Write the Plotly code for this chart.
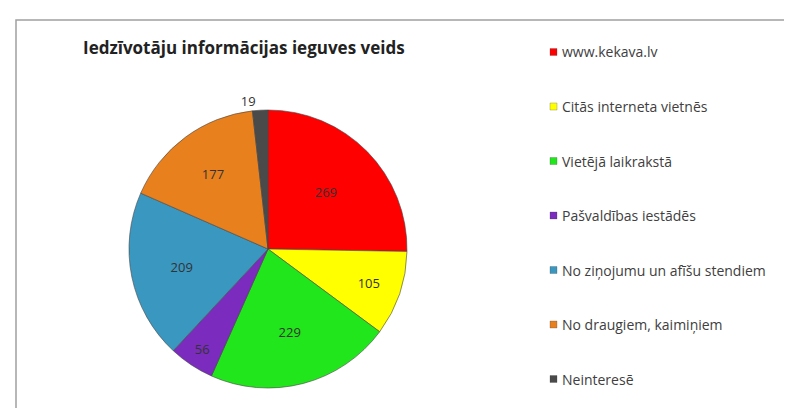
import plotly.graph_objects as go

categories = ["www.kekava.lv", "Citās interneta vietnēs", "Vietējā laikrakstā",
              "Pašvaldības iestādēs", "No ziņojumu un afīšu stendiem",
              "No draugiem, kaimiņiem", "Neinteresē"]
values = [269, 105, 229, 56, 209, 177, 19]
colors = ["#FF0000", "#FFFF00", "#22E61C", "#7B2CBF", "#3A97C0", "#E8801E", "#4A4A4A"]
title_text = "Iedzīvotāju informācijas ieguves veids"

W, H = 792, 408
font = "'Open Sans', sans-serif"

positions = ["inside"] * 6 + ["outside"]

fig = go.Figure(go.Pie(
    labels=categories, values=values, sort=False, direction="clockwise",
    rotation=0, marker=dict(colors=colors, line=dict(color="rgba(70,70,70,0.6)", width=1)),
    textinfo="value", textposition=positions, insidetextorientation="horizontal",
    textfont=dict(family=font, size=13, color="#333333"),
    showlegend=False,
    domain=dict(x=[121/W, 399/W], y=[(H-387)/H, (H-95)/H]),
))

shapes = [dict(type="rect", xref="paper", yref="paper", x0=8/W, x1=1.05, y0=-0.05, y1=(H-12)/H,
               line=dict(color="#A0A0A0", width=1.5), fillcolor="rgba(0,0,0,0)")]
annotations = [dict(text=title_text, xref="paper", yref="paper", x=73/W, y=(H-40)/H,
                    xanchor="left", yanchor="middle", showarrow=False,
                    font=dict(family=font, size=17, color="#222222", weight="bold"))]

y0, dy = 44, 54.5
for i, (c, col) in enumerate(zip(categories, colors)):
    yc = y0 + i * dy
    shapes.append(dict(type="rect", xref="paper", yref="paper",
                       x0=542/W, x1=549/W, y0=(H-yc-3.5)/H, y1=(H-yc+3.5)/H,
                       fillcolor=col, line=dict(color="rgba(60,60,60,0.5)", width=0.5)))
    annotations.append(dict(text=c, xref="paper", yref="paper", x=552/W, y=(H-yc)/H,
                            xanchor="left", yanchor="middle", showarrow=False,
                            font=dict(family=font, size=14, color="#404040")))

fig.update_layout(width=W, height=H, margin=dict(l=0, r=0, t=0, b=0),
                  paper_bgcolor="white", plot_bgcolor="white",
                  shapes=shapes, annotations=annotations)
fig.write_html("out.html")
